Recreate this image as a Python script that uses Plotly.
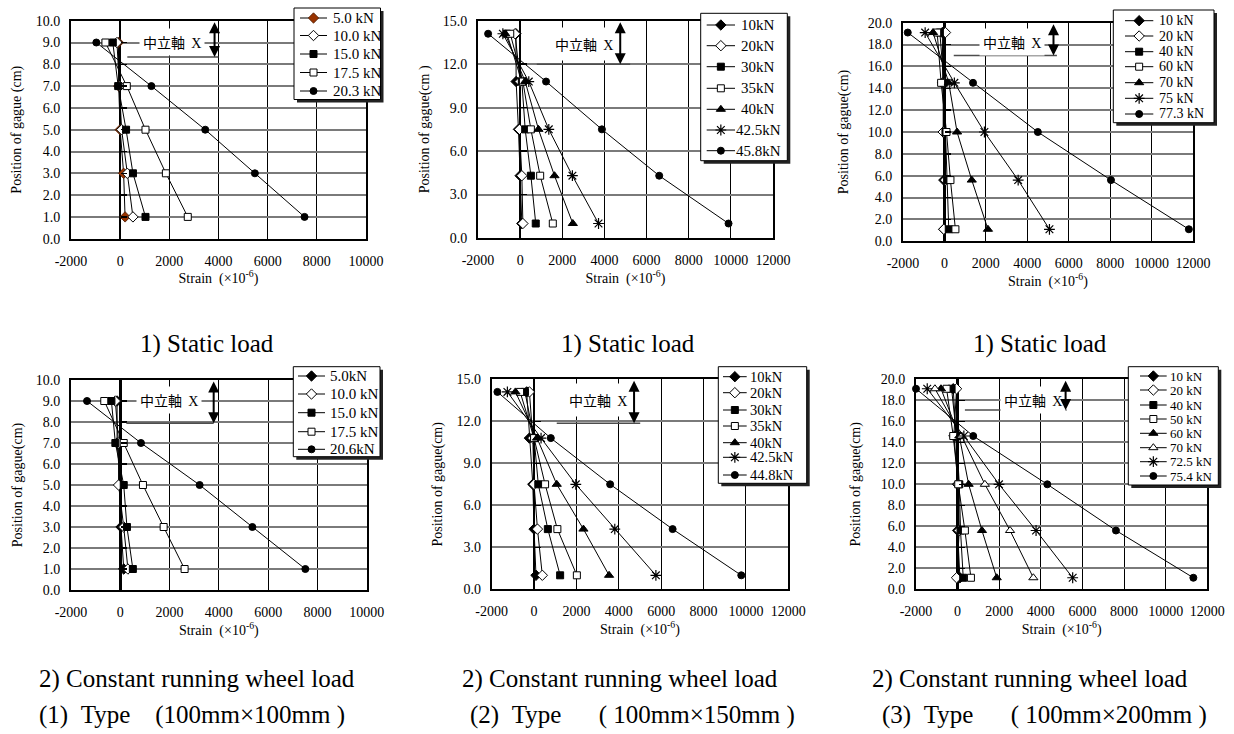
import plotly.graph_objects as go

W, H = 1234, 734
SERIF = "Liberation Serif"
CJK = "Noto Sans CJK JP"

# ---------------- data (strain x10^-6 at each gauge position, cm) ----------------
# (1) Type 100mm x 100mm, static load
pos_1s = [9.0, 7.0, 5.0, 3.0, 1.0]
loads_1s = ["5.0 kN", "10.0 kN", "15.0 kN", "17.5 kN", "20.3 kN"]
strain_1s = [
    [-70, -60, 0, 140, 200],
    [-130, -20, 60, 290, 520],
    [-300, -80, 240, 520, 1030],
    [-600, 270, 1030, 1860, 2750],
    [-970, 1270, 3460, 5480, 7500],
]
# (2) Type 100mm x 150mm, static load
pos_2s = [14.1, 10.8, 7.5, 4.3, 1.0]
loads_2s = ["10kN", "20kN", "30kN", "35kN", "40kN", "42.5kN", "45.8kN"]
strain_2s = [
    [-200, -190, -80, 0, 80],
    [-240, 0, -30, 80, 130],
    [-630, 80, 240, 510, 740],
    [-470, 130, 510, 950, 1550],
    [-710, 240, 870, 1630, 2500],
    [-820, 410, 1360, 2480, 3720],
    [-1520, 1230, 3880, 6600, 9890],
]
# (3) Type 100mm x 200mm, static load
pos_3s = [19.1, 14.5, 10.0, 5.6, 1.1]
loads_3s = ["10 kN", "20 kN", "40 kN", "60 kN", "70 kN", "75 kN", "77.3 kN"]
strain_3s = [
    [-100, -80, 0, -30, -30],
    [50, -60, -60, 50, -30],
    [-220, -30, 50, 130, 210],
    [-350, -160, 100, 290, 530],
    [-550, 210, 610, 1320, 2100],
    [-930, 480, 1930, 3560, 5070],
    [-1770, 1380, 4510, 8040, 11800],
]
# (1) Type 100mm x 100mm, constant running wheel load
pos_1r = [9.0, 7.0, 5.0, 3.0, 1.0]
loads_1r = ["5.0kN", "10.0 kN", "15.0 kN", "17.5 kN", "20.6kN"]
strain_1r = [
    [-130, -130, 0, 30, 140],
    [-200, -70, -70, 140, 310],
    [-360, -200, 140, 270, 510],
    [-650, 140, 920, 1760, 2610],
    [-1350, 840, 3220, 5360, 7510],
]
# (2) Type 100mm x 150mm, constant running wheel load
pos_2r = [14.1, 10.8, 7.5, 4.3, 1.0]
loads_2r = ["10kN", "20kN", "30kN", "35kN", "40kN", "42.5kN", "44.8kN"]
strain_2r = [
    [-350, -220, -60, 0, 90],
    [-220, -60, 0, 160, 390],
    [-430, 0, 200, 650, 1230],
    [-660, 0, 520, 1100, 2020],
    [-880, 140, 1070, 2330, 3540],
    [-1260, 330, 1970, 3810, 5750],
    [-1730, 790, 3590, 6540, 9780],
]
# (3) Type 100mm x 200mm, constant running wheel load
pos_3r = [19.1, 14.6, 10.0, 5.6, 1.1]
loads_3r = ["10 kN", "20 kN", "40 kN", "50 kN", "60 kN", "70 kN", "72.5 kN", "75.4 kN"]
strain_3r = [
    [-210, -80, 0, 0, 110],
    [-50, -180, 30, 80, -50],
    [-290, -50, 80, 140, 270],
    [-530, -210, 30, 350, 640],
    [-800, 80, 530, 1170, 1880],
    [-1090, 190, 1310, 2520, 3640],
    [-1460, 300, 1990, 3770, 5530],
    [-2000, 750, 4310, 7610, 11330],
]

x_ticks_a = [-2000, 0, 2000, 4000, 6000, 8000, 10000]
x_ticks_b = [-2000, 0, 2000, 4000, 6000, 8000, 10000, 12000]

# ---------------- marker styles ----------------
MK = {
    "bd": dict(symbol="diamond", size=8, color="#993300", line=dict(color="#4a1a00", width=0.8)),
    "fd": dict(symbol="diamond", size=8, color="black", line=dict(color="black", width=1)),
    "od": dict(symbol="diamond", size=8, color="white", line=dict(color="black", width=1)),
    "fs": dict(symbol="square", size=7, color="black", line=dict(color="black", width=1)),
    "os": dict(symbol="square", size=7, color="white", line=dict(color="black", width=1)),
    "ft": dict(symbol="triangle-up", size=8, color="black", line=dict(color="black", width=1)),
    "ot": dict(symbol="triangle-up", size=8, color="white", line=dict(color="black", width=1)),
    "as": dict(symbol="asterisk-open", size=9, color="black", line=dict(color="black", width=1.2)),
    "fc": dict(symbol="circle", size=7, color="black", line=dict(color="black", width=1)),
}

charts = [
    dict(pos=pos_1s, loads=loads_1s, strain=strain_1s, mk=["bd", "od", "fs", "os", "fc"],
         box=(71, 20.7, 366, 238.7), xr=(-2000, 10000), xt=x_ticks_a, yr=(0, 10), dy=1,
         ytitle="Position of gague (cm)", ystand=11,
         leg=(294, 8, 380.5, 99.5), leg_y=[18, 35.5, 54, 72.5, 91], leg_lx=(300, 327), leg_tx=331,
         leg_anchor="left", leg_font=15,
         na=dict(tx=2120, ty=9.0, ly=8.33, lx0=290, lx1=4000, ax=3840, ay0=10.0, pad=3)),
    dict(pos=pos_2s, loads=loads_2s, strain=strain_2s, mk=["fd", "od", "fs", "os", "ft", "as", "fc"],
         box=(478, 20.7, 773, 238), xr=(-2000, 12000), xt=x_ticks_b, yr=(0, 15), dy=3,
         ytitle="Position of gague(cm )", ystand=10,
         leg=(700.7, 13.3, 787.3, 160.7), leg_y=[25, 45.7, 66.7, 88.3, 109.3, 130, 150.7],
         leg_lx=(706.7, 735), leg_tx=758.3, leg_anchor="center", leg_font=15,
         na=dict(tx=3040, ty=13.4, ly=12.0, lx0=790, lx1=5220, ax=4750, ay0=15.0, pad=6)),
    dict(pos=pos_3s, loads=loads_3s, strain=strain_3s, mk=["fd", "od", "fs", "os", "ft", "as", "fc"],
         box=(903, 22.7, 1193, 241.3), xr=(-2000, 12000), xt=x_ticks_b, yr=(0, 20), dy=2,
         ytitle="Position of gague(cm)", ystand=16,
         leg=(1113.3, 10, 1214, 122.7), leg_y=[20.7, 36, 51.7, 66.7, 82.7, 98.3, 114],
         leg_lx=(1125, 1153.3), leg_tx=1157.3, leg_anchor="left", leg_font=14,
         na=dict(tx=3260, ty=18.2, ly=17.0, lx0=450, lx1=5430, ax=5265, ay0=20.0, pad=3)),
    dict(pos=pos_1r, loads=loads_1r, strain=strain_1r, mk=["fd", "od", "fs", "os", "fc"],
         box=(71, 380, 366.7, 590), xr=(-2000, 10000), xt=x_ticks_a, yr=(0, 10), dy=1,
         ytitle="Position of gague(cm)", ystand=10,
         leg=(293.3, 366.7, 380, 456.7), leg_y=[376, 394, 412.7, 431.7, 449.3],
         leg_lx=(298, 325), leg_tx=328, leg_anchor="left", leg_font=15,
         na=dict(tx=1970, ty=9.05, ly=7.94, lx0=245, lx1=3790, ax=3790, ay0=10.0, pad=3)),
    dict(pos=pos_2r, loads=loads_2r, strain=strain_2r, mk=["fd", "od", "fs", "os", "ft", "as", "fc"],
         box=(491.7, 379.3, 788.3, 589.3), xr=(-2000, 12000), xt=x_ticks_b, yr=(0, 15), dy=3,
         ytitle="Position of gague(cm)", ystand=10,
         leg=(718.3, 366.7, 806.7, 483.3), leg_y=[376.7, 392.7, 410, 426, 442.7, 457.3, 475],
         leg_lx=(723, 746.7), leg_tx=748, leg_anchor="left", leg_font=14.5,
         na=dict(tx=3040, ty=13.5, ly=11.86, lx0=1070, lx1=5010, ax=4720, ay0=15.0, pad=6)),
    dict(pos=pos_3r, loads=loads_3r, strain=strain_3r, mk=["fd", "od", "fs", "os", "ft", "ot", "as", "fc"],
         box=(916, 379.3, 1207.3, 589.3), xr=(-2000, 12000), xt=x_ticks_b, yr=(0, 20), dy=2,
         ytitle="Position of gague(cm)", ystand=17,
         leg=(1128.3, 366.7, 1218.3, 485), leg_y=[376, 390, 405, 419, 433.3, 447.7, 461.7, 476],
         leg_lx=(1140, 1166.7), leg_tx=1168.3, leg_anchor="left", leg_font=13,
         na=dict(tx=3600, ty=18.0, ly=17.07, lx0=350, lx1=5240, ax=5190, ay0=20.0, pad=3)),
]

fig = go.Figure()
layout = dict(
    width=W, height=H, margin=dict(l=0, r=0, t=0, b=0, autoexpand=False),
    paper_bgcolor="white", plot_bgcolor="rgba(0,0,0,0)",
    showlegend=False, font=dict(family=SERIF, color="black", size=14),
)
annotations = []
shapes = []

LEG_X, LEG_Y = "x13", "y13"

for i, c in enumerate(charts):
    n = i + 1
    xa, ya = f"x{n}", f"y{n}"
    px0, py0, px1, py1 = c["box"]
    for s, lab, mk in zip(c["strain"], c["loads"], c["mk"]):
        fig.add_trace(go.Scatter(
            x=s, y=c["pos"], mode="lines+markers", name=lab,
            line=dict(color="black", width=1), marker=MK[mk],
            xaxis=xa, yaxis=ya, cliponaxis=False, showlegend=False))
    xkey = "xaxis" if n == 1 else f"xaxis{n}"
    ykey = "yaxis" if n == 1 else f"yaxis{n}"
    layout[xkey] = dict(
        domain=[px0 / W, px1 / W], anchor=ya, range=list(c["xr"]),
        tickvals=c["xt"], ticktext=[str(v) for v in c["xt"]], ticks="",
        showline=True, mirror=True, linewidth=2, linecolor="black",
        showgrid=True, gridcolor="black", gridwidth=1, automargin=False,
        zeroline=True, zerolinecolor="black", zerolinewidth=2.5,
        tickfont=dict(family=SERIF, size=14), ticklabelstandoff=8,
        title=dict(text="Strain  (×10<sup>-6</sup>)", font=dict(family=SERIF, size=14), standoff=2),
    )
    layout[ykey] = dict(
        domain=[1 - py1 / H, 1 - py0 / H], anchor=xa, range=list(c["yr"]), dtick=c["dy"],
        tickformat=".1f", ticks="", showline=True, mirror=True, linewidth=2, linecolor="black",
        showgrid=True, gridcolor="#7a7a7a", gridwidth=2, zeroline=False, automargin=False,
        tickfont=dict(family=SERIF, size=14), ticklabelstandoff=6,
        title=dict(text=c["ytitle"], font=dict(family=SERIF, size=14), standoff=c["ystand"]),
    )
    # short ticks on the zero-strain line
    tn = 6 + n
    zero_px = px0 + (0 - c["xr"][0]) / (c["xr"][1] - c["xr"][0]) * (px1 - px0)
    layout[f"yaxis{tn}"] = dict(
        overlaying=ya, anchor="free", position=zero_px / W, side="left",
        range=list(c["yr"]), dtick=c["dy"], ticks="inside", ticklen=6, tickwidth=1.5,
        tickcolor="black", showticklabels=False, showgrid=False, zeroline=False, showline=False)
    fig.add_trace(go.Scatter(x=[None], y=[None], xaxis=xa, yaxis=f"y{tn}",
                             mode="markers", showlegend=False, hoverinfo="skip"))

    # neutral axis annotation
    na = c["na"]
    shapes.append(dict(type="line", xref=xa, yref=ya, x0=na["lx0"], x1=na["lx1"],
                       y0=na["ly"], y1=na["ly"], line=dict(color="#4d4d4d", width=1.5)))
    annotations.append(dict(
        x=na["tx"], y=na["ty"], xref=xa, yref=ya, showarrow=False,
        text="中立軸\u00a0\u00a0<span style='font-family:Liberation Serif'>X</span>",
        font=dict(family=CJK, size=14, color="black"), bgcolor="white", borderpad=na["pad"]))
    annotations.append(dict(
        x=na["ax"], y=na["ly"], ax=na["ax"], ay=na["ay0"], xref=xa, yref=ya,
        axref=xa, ayref=ya, text="", showarrow=True, arrowside="end+start",
        arrowhead=2, startarrowhead=2, arrowsize=1.1, startarrowsize=1.1, arrowwidth=2,
        arrowcolor="black"))

    # legend (drawn in a pixel-space overlay)
    lx0, ly0, lx1, ly1 = c["leg"]
    fig.add_trace(go.Scatter(
        x=[lx0 + 3, lx1 + 3, lx1 + 3, lx0 + 3, lx0 + 3], y=[ly0 + 3, ly0 + 3, ly1 + 3, ly1 + 3, ly0 + 3],
        fill="toself", fillcolor="#222", mode="lines", line=dict(width=0),
        xaxis=LEG_X, yaxis=LEG_Y, showlegend=False, hoverinfo="skip"))
    fig.add_trace(go.Scatter(
        x=[lx0, lx1, lx1, lx0, lx0], y=[ly0, ly0, ly1, ly1, ly0],
        fill="toself", fillcolor="white", mode="lines", line=dict(color="black", width=1),
        xaxis=LEG_X, yaxis=LEG_Y, showlegend=False, hoverinfo="skip"))
    a, b = c["leg_lx"]
    for yy, lab, mk in zip(c["leg_y"], c["loads"], c["mk"]):
        fig.add_trace(go.Scatter(
            x=[a, b], y=[yy, yy], mode="lines", line=dict(color="black", width=1),
            xaxis=LEG_X, yaxis=LEG_Y, showlegend=False, hoverinfo="skip"))
        fig.add_trace(go.Scatter(
            x=[(a + b) / 2], y=[yy], mode="markers", marker=MK[mk],
            xaxis=LEG_X, yaxis=LEG_Y, showlegend=False, hoverinfo="skip"))
        annotations.append(dict(
            x=c["leg_tx"] / W, y=1 - yy / H, xref="paper", yref="paper", showarrow=False,
            text=lab, xanchor=c["leg_anchor"], yanchor="middle",
            font=dict(family=SERIF, size=c["leg_font"], color="black")))

layout["xaxis13"] = dict(domain=[0, 1], anchor="y13", range=[0, W], visible=False, fixedrange=True)
layout["yaxis13"] = dict(domain=[0, 1], anchor="x13", range=[H, 0], visible=False, fixedrange=True)

# titles and captions
for cx in (207, 628, 1040):
    annotations.append(dict(x=cx / W, y=1 - 344 / H, xref="paper", yref="paper", showarrow=False,
                            text="1) Static load", font=dict(family=SERIF, size=25, color="black"),
                            xanchor="center", yanchor="middle"))
captions = [
    (37, "2) Constant running wheel load", "(1)\u00a0\u00a0Type\u00a0\u00a0\u00a0\u00a0(100mm×100mm\u00a0)", 37),
    (460, "2) Constant running wheel load", "(2)\u00a0\u00a0Type\u00a0\u00a0\u00a0\u00a0\u00a0\u00a0(\u00a0100mm×150mm\u00a0)", 468),
    (870, "2) Constant running wheel load", "(3)\u00a0\u00a0Type\u00a0\u00a0\u00a0\u00a0\u00a0\u00a0(\u00a0100mm×200mm\u00a0)", 880),
]
for x1, t1, t2, x2 in captions:
    annotations.append(dict(x=x1 / W, y=1 - 679 / H, xref="paper", yref="paper", showarrow=False,
                            text=t1, font=dict(family=SERIF, size=25, color="black"),
                            xanchor="left", yanchor="middle"))
    annotations.append(dict(x=x2 / W, y=1 - 715 / H, xref="paper", yref="paper", showarrow=False,
                            text=t2, font=dict(family=SERIF, size=25, color="black"),
                            xanchor="left", yanchor="middle"))

layout["annotations"] = annotations
layout["shapes"] = shapes
fig.update_layout(**layout)
fig.write_html("out.html", config={"displayModeBar": False, "staticPlot": True},
               post_script="document.body.style.margin='0';document.body.style.overflow='hidden';")
